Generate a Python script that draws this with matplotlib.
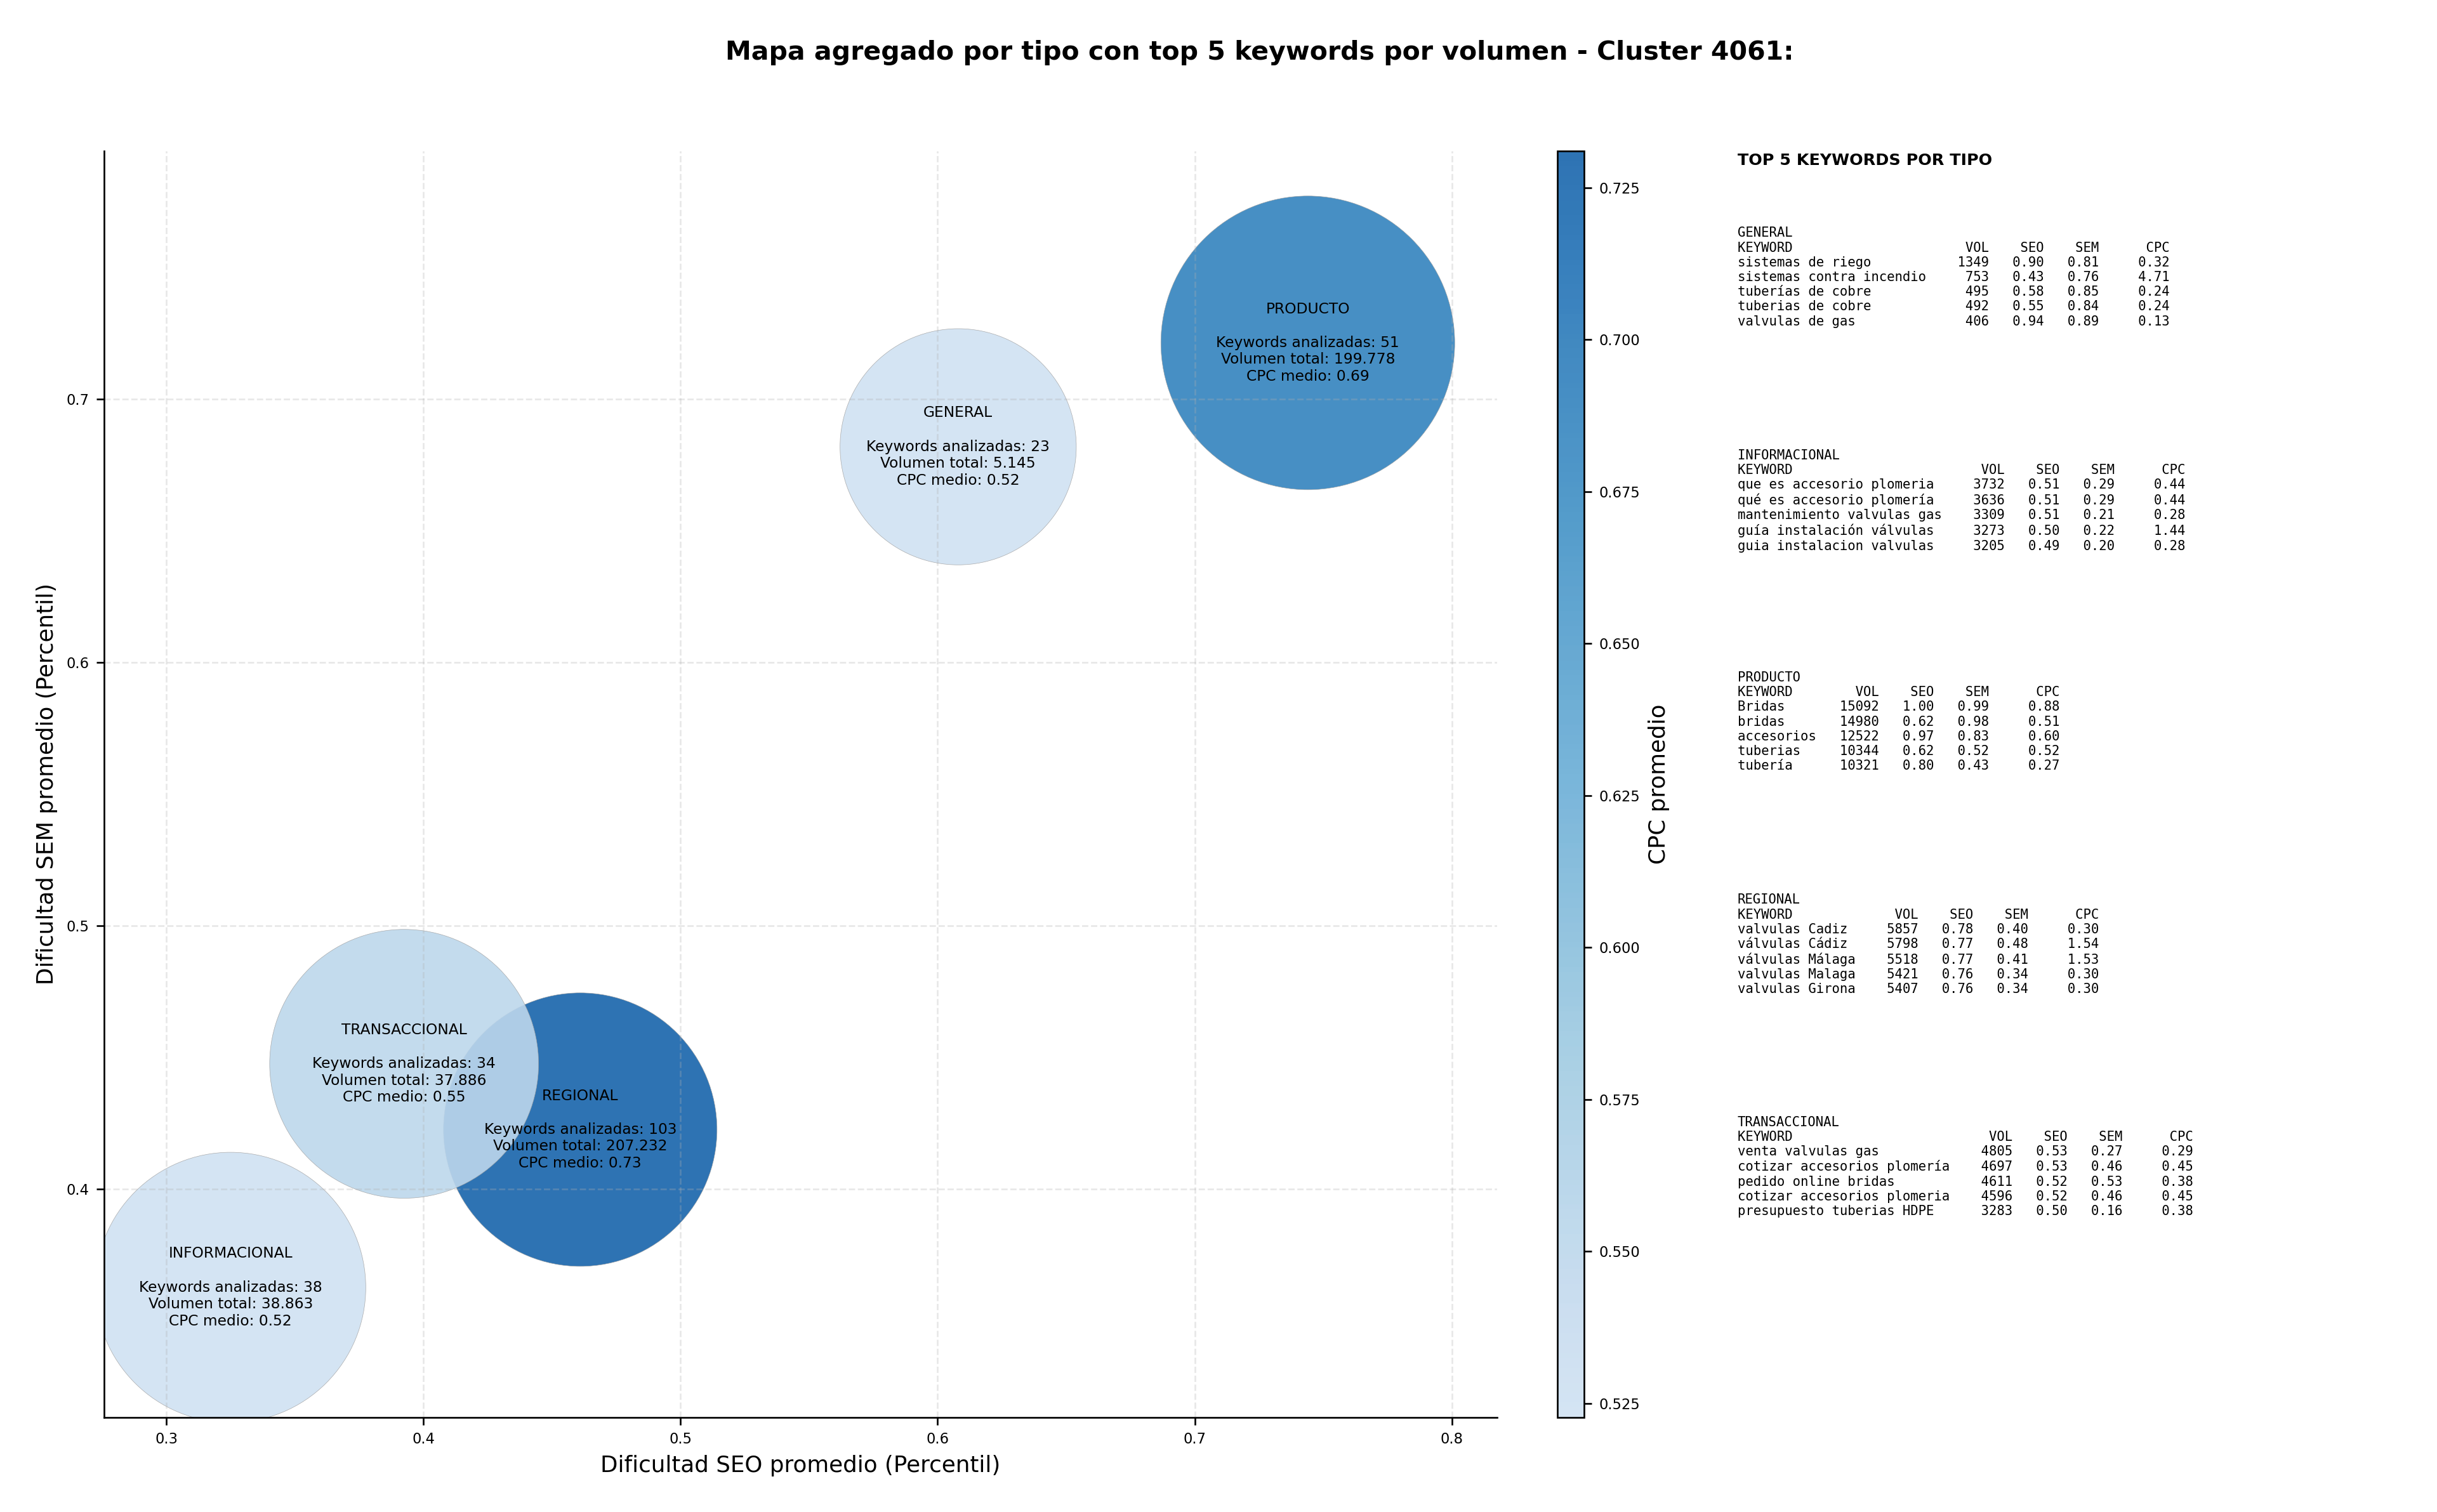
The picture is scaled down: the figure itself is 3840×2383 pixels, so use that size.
import matplotlib
matplotlib.use("Agg")
import matplotlib.pyplot as plt
import numpy as np
from matplotlib.colors import LinearSegmentedColormap, Normalize
from matplotlib.ticker import MultipleLocator

# ---------------- data ----------------
tipos = ["GENERAL", "INFORMACIONAL", "PRODUCTO", "REGIONAL", "TRANSACCIONAL"]
seo_avg = [0.608, 0.325, 0.744, 0.461, 0.3925]
sem_avg = [0.682, 0.3625, 0.7215, 0.4225, 0.4475]
cpc_avg = [0.524, 0.5227, 0.69, 0.7311, 0.55]
n_keywords = [23, 38, 51, 103, 34]
vol_total = [5145, 38863, 199778, 207232, 37886]
bubble_area = [12470, 16340, 19290, 16720, 16160]

top_keywords = {
    "GENERAL": ["sistemas de riego", "sistemas contra incendio", "tuberías de cobre",
                "tuberias de cobre", "valvulas de gas"],
    "INFORMACIONAL": ["que es accesorio plomeria", "qué es accesorio plomería",
                      "mantenimiento valvulas gas", "guía instalación válvulas",
                      "guia instalacion valvulas"],
    "PRODUCTO": ["Bridas", "bridas", "accesorios", "tuberias", "tubería"],
    "REGIONAL": ["valvulas Cadiz", "válvulas Cádiz", "válvulas Málaga",
                 "valvulas Malaga", "valvulas Girona"],
    "TRANSACCIONAL": ["venta valvulas gas", "cotizar accesorios plomería",
                      "pedido online bridas", "cotizar accesorios plomeria",
                      "presupuesto tuberias HDPE"],
}
top_vol = {
    "GENERAL": [1349, 753, 495, 492, 406],
    "INFORMACIONAL": [3732, 3636, 3309, 3273, 3205],
    "PRODUCTO": [15092, 14980, 12522, 10344, 10321],
    "REGIONAL": [5857, 5798, 5518, 5421, 5407],
    "TRANSACCIONAL": [4805, 4697, 4611, 4596, 3283],
}
top_seo = {
    "GENERAL": [0.90, 0.43, 0.58, 0.55, 0.94],
    "INFORMACIONAL": [0.51, 0.51, 0.51, 0.50, 0.49],
    "PRODUCTO": [1.00, 0.62, 0.97, 0.62, 0.80],
    "REGIONAL": [0.78, 0.77, 0.77, 0.76, 0.76],
    "TRANSACCIONAL": [0.53, 0.53, 0.52, 0.52, 0.50],
}
top_sem = {
    "GENERAL": [0.81, 0.76, 0.85, 0.84, 0.89],
    "INFORMACIONAL": [0.29, 0.29, 0.21, 0.22, 0.20],
    "PRODUCTO": [0.99, 0.98, 0.83, 0.52, 0.43],
    "REGIONAL": [0.40, 0.48, 0.41, 0.34, 0.34],
    "TRANSACCIONAL": [0.27, 0.46, 0.53, 0.46, 0.16],
}
top_cpc = {
    "GENERAL": [0.32, 4.71, 0.24, 0.24, 0.13],
    "INFORMACIONAL": [0.44, 0.44, 0.28, 1.44, 0.28],
    "PRODUCTO": [0.88, 0.51, 0.60, 0.52, 0.27],
    "REGIONAL": [0.30, 1.54, 1.53, 0.30, 0.30],
    "TRANSACCIONAL": [0.29, 0.45, 0.38, 0.45, 0.38],
}

# ---------------- figure ----------------
fig = plt.figure(figsize=(16, 2383 / 240), dpi=240)
ax = fig.add_axes([0.0427, 0.0627, 0.5715, 0.8376])
cax = fig.add_axes([0.639, 0.0627, 0.011, 0.8376])

base = plt.get_cmap("Blues")
cmap = LinearSegmentedColormap.from_list("blues_trunc", base(np.linspace(0.2, 0.8, 256)))
norm = Normalize(vmin=min(cpc_avg), vmax=max(cpc_avg))

sc = ax.scatter(seo_avg, sem_avg, s=bubble_area, c=cpc_avg, cmap=cmap, norm=norm,
                alpha=0.9, edgecolors="#a0a0a0", linewidths=0.2)

for t, x, y, n, v, c in zip(tipos, seo_avg, sem_avg, n_keywords, vol_total, cpc_avg):
    vol_str = f"{v:,}".replace(",", ".")
    ax.text(x, y, f"{t}\n\nKeywords analizadas: {n}\nVolumen total: {vol_str}\nCPC medio: {c:.2f}",
            ha="center", va="center", fontsize=7)

ax.set_xlim(0.2758, 0.8175)
ax.set_ylim(0.3132, 0.7945)
ax.xaxis.set_major_locator(MultipleLocator(0.1))
ax.yaxis.set_major_locator(MultipleLocator(0.1))
ax.tick_params(labelsize=6.8)
ax.grid(True, linestyle="--", alpha=0.3)
ax.spines["top"].set_visible(False)
ax.spines["right"].set_visible(False)
ax.set_xlabel("Dificultad SEO promedio (Percentil)", fontsize=10.7)
ax.set_ylabel("Dificultad SEM promedio (Percentil)", fontsize=10.7)

cb = fig.colorbar(sc, cax=cax)
cb.set_ticks(np.arange(0.525, 0.7251, 0.025))
cb.ax.tick_params(labelsize=6.8)
cb.set_label("CPC promedio", fontsize=10.7)

fig.text(0.517, 0.965, "Mapa agregado por tipo con top 5 keywords por volumen - Cluster 4061:",
         ha="center", va="center", fontsize=12.3, fontweight="bold")

# ---------------- keyword panel ----------------
fig.text(0.713, 0.899, "TOP 5 KEYWORDS POR TIPO", ha="left", va="top",
         fontsize=7.6, fontweight="bold")
for i, t in enumerate(tipos):
    kws = top_keywords[t]
    L = max(len(k) for k in kws)
    lines = [t, f"{'KEYWORD':<{L}}{'VOL':>8}{'SEO':>7}{'SEM':>7}{'CPC':>9}"]
    for k, v, s1, s2, c in zip(kws, top_vol[t], top_seo[t], top_sem[t], top_cpc[t]):
        lines.append(f"{k:<{L}}{v:>8}{s1:>7.2f}{s2:>7.2f}{c:>9.2f}")
    fig.text(0.713, 0.85 - i * 0.147, "\n".join(lines), ha="left", va="top",
             fontsize=6.2, family="DejaVu Sans Mono")

fig.savefig("out.png", dpi=240)
